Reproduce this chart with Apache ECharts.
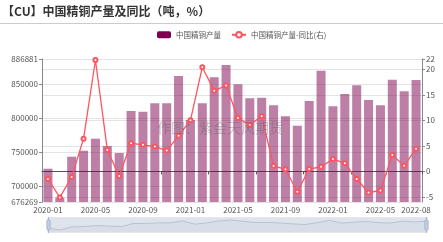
<!DOCTYPE html>
<html><head><meta charset="utf-8">
<script src="https://cdn.jsdelivr.net/npm/echarts@6/dist/echarts.min.js"></script>
<style>html,body{margin:0;padding:0;background:#fff}#c{width:443px;height:242px}</style>
</head><body><div id="c"></div>
<script>
const months = ['2020-01','2020-02','2020-03','2020-04','2020-05','2020-06','2020-07','2020-08','2020-09','2020-10','2020-11','2020-12',
  '2021-01','2021-02','2021-03','2021-04','2021-05','2021-06','2021-07','2021-08','2021-09','2021-10','2021-11','2021-12',
  '2022-01','2022-02','2022-03','2022-04','2022-05','2022-06','2022-07','2022-08'];
const output = [725300, 682600, 743000, 751800, 769500, 758700, 748400, 810300, 809300, 821600, 821600, 861800,
  797000, 821600, 859900, 878000, 849600, 829000, 829900, 818700, 802500, 788600, 825000, 869600,
  817200, 835300, 848100, 826500, 818700, 856400, 839300, 856000];
const yoy = [-1.5, -5.1, -1.1, 6.4, 21.8, 4.2, -0.9, 5.5, 5.2, 4.85, 4.06, 6.96,
  10.0, 20.4, 15.8, 16.8, 10.45, 9.1, 10.8, 1.05, 0.4, -4.0, 0.45, 0.9,
  2.4, 1.6, -1.5, -4.15, -3.75, 3.2, 1.1, 4.45];
const leftMin = 676269, leftMax = 886881;
const rightMin = -6, rightMax = 22;
const titleText = '【CU】中国精铜产量及同比（吨，%）';
const barName = '中国精铜产量';
const lineName = '中国精铜产量-同比(右)';
const watermark = '作图：紫金天风期货';

const chart = echarts.init(document.getElementById('c'));
const fontFam = '"Noto Sans CJK SC", "Noto Sans", sans-serif';
chart.setOption({
  animation: false,
  textStyle: {fontFamily: fontFam},
  title: {text: titleText, left: 0, top: 5, padding: [0, 0, 0, 2],
    textStyle: {fontSize: 12, fontWeight: 'bold', color: '#333', fontFamily: '"Noto Sans CJK SC", serif'}},
  graphic: [
    {type: 'line', shape: {x1: 0, y1: 23.5, x2: 443, y2: 23.5}, style: {stroke: '#ccc', lineWidth: 1}},
    {type: 'text', left: 157, top: 121, z: 100, style: {text: watermark, fontSize: 14, fill: 'rgba(90,90,90,0.35)', fontFamily: fontFam}}
  ],
  legend: {left: 152, top: 26, itemWidth: 14, itemHeight: 7, itemGap: 10,
    textStyle: {fontSize: 7.5, color: '#555'},
    data: [{name: barName, itemStyle: {opacity: 1}}, {name: lineName}]},
  grid: {left: 42, right: 21, top: 59, bottom: 40},
  xAxis: [
    {type: 'category', data: months, position: 'bottom',
      axisLine: {show: false, onZero: false}, axisTick: {show: false},
      axisLabel: {fontSize: 8, color: '#555', margin: 4, interval: (i) => i % 4 === 0 || i === months.length - 1}},
    {type: 'category', data: months, position: 'top',
      axisLine: {show: true, onZero: true, onZeroAxisIndex: 1, lineStyle: {color: '#555', width: 1}},
      axisTick: {show: true, inside: true, length: 3, lineStyle: {color: '#555'}, interval: (i) => [10, 14, 18, 22, 26, 29].indexOf(i) >= 0},
      axisLabel: {show: false}, splitLine: {show: false}}
  ],
  yAxis: [
    {type: 'value', min: leftMin, max: leftMax, position: 'left',
      axisLine: {show: true, lineStyle: {color: '#888'}}, axisTick: {show: true, length: 3, lineStyle: {color: '#888'}},
      axisLabel: {fontSize: 8, color: '#555', margin: 4, formatter: (v) => String(v)},
      splitLine: {lineStyle: {color: '#e3e3e3'}}},
    {type: 'value', min: rightMin, max: rightMax, position: 'right',
      axisLine: {show: true, lineStyle: {color: '#888'}}, axisTick: {show: true, length: 3, lineStyle: {color: '#888'}},
      axisLabel: {fontSize: 8, color: '#555', margin: 4, showMinLabel: false, formatter: (v) => String(v)},
      splitLine: {lineStyle: {color: '#e3e3e3'}}}
  ],
  dataZoom: [{type: 'slider', xAxisIndex: [0, 1], start: 0, end: 100, left: 45, right: 18, bottom: 9, height: 16,
    showDetail: false, brushSelect: false, borderColor: '#e4e7ec', fillerColor: 'rgba(160,176,200,0.35)',
    handleStyle: {color: '#c5cfdd', borderColor: '#a7b7cc'}, moveHandleSize: 0,
    dataBackground: {lineStyle: {color: '#ccc', width: 0.8}, areaStyle: {color: '#eceef1'}},
    selectedDataBackground: {lineStyle: {color: '#b9c2d0', width: 0.8}, areaStyle: {color: '#dfe3ea'}}}],
  series: [
    {name: barName, type: 'bar', data: output, xAxisIndex: 0, yAxisIndex: 0, barWidth: '76%',
      itemStyle: {color: '#7d004f', opacity: 0.5}},
    {name: lineName, type: 'line', data: yoy, xAxisIndex: 1, yAxisIndex: 1,
      symbol: 'emptyCircle', symbolSize: 4, lineStyle: {width: 1.3, color: '#fb5560'},
      itemStyle: {color: '#fb5560'}}
  ]
});
</script></body></html>
